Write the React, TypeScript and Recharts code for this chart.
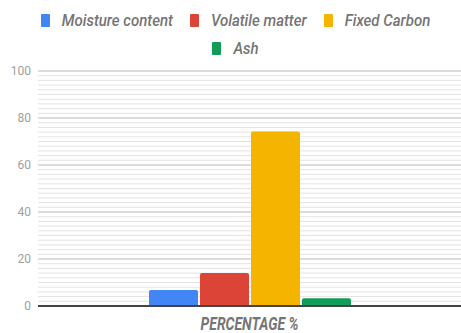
import { Bar, BarChart, CartesianGrid, XAxis, YAxis } from 'recharts'

const categories = ['PERCENTAGE %']
const seriesKeys = ['moisture', 'volatile', 'fixedCarbon', 'ash']
const seriesNames = ['Moisture content', 'Volatile matter', 'Fixed Carbon', 'Ash']
const seriesValues = [6.8, 14, 74.3, 3.3]
const seriesColors = ['#4285f4', '#db4437', '#f4b400', '#0f9d58']
const yTicks = [0, 20, 40, 60, 80, 100]
const yDomain = [0, 100]

const chartData = categories.map((name) => {
  const row: Record<string, string | number> = { name }
  seriesKeys.forEach((key, i) => {
    row[key] = seriesValues[i]
  })
  return row
})

// light grid lines every 2 units
const minorTicks = Array.from({ length: 51 }, (_, i) => i * 2)

const minorCoords = ({ yAxis, offset }: any) =>
  minorTicks.map((v) => {
    if (yAxis && typeof yAxis.scale === 'function') return yAxis.scale(v)
    return offset.top + offset.height * (1 - (v - yDomain[0]) / (yDomain[1] - yDomain[0]))
  })

const textFont = 'Roboto, "Noto Sans", sans-serif'

const CategoryTick = (props: any) => {
  const { x, y, payload } = props
  return (
    <g transform={`translate(${x},${y + 24}) scale(1,1.3)`}>
      <text
        textAnchor="middle"
        fill="#757575"
        fontFamily={textFont}
        fontSize={14}
        fontStyle="italic"
        fontWeight={700}
      >
        {payload.value}
      </text>
    </g>
  )
}

const LegendItem = ({ index }: { index: number }) => (
  <span style={{ display: 'inline-flex', alignItems: 'center', margin: '0 8.5px' }}>
    <span
      style={{
        display: 'inline-block',
        width: 9,
        height: 13,
        background: seriesColors[index],
        marginRight: 12,
        borderRadius: 1,
      }}
    />
    <span
      style={{
        display: 'inline-block',
        transform: 'scaleY(1.15)',
        fontFamily: textFont,
        fontSize: 15,
        fontStyle: 'italic',
        fontWeight: 500,
        color: '#757575',
        lineHeight: '16px',
      }}
    >
      {seriesNames[index]}
    </span>
  </span>
)

const legendRows = [[0, 1, 2], [3]]

const App = () => {
  return (
    <div
      style={{
        position: 'absolute',
        left: 0,
        top: 0,
        width: 461,
        height: 333,
        background: '#fff',
        overflow: 'hidden',
      }}
    >
      {legendRows.map((row, r) => (
        <div
          key={r}
          style={{
            position: 'absolute',
            left: 10,
            top: r === 0 ? 10 : 38,
            width: 451,
            height: 20,
            display: 'flex',
            justifyContent: 'center',
            alignItems: 'center',
          }}
        >
          {row.map((i) => (
            <LegendItem key={i} index={i} />
          ))}
        </div>
      ))}
      <BarChart
        width={461}
        height={333}
        data={chartData}
        margin={{ top: 71, right: 0, bottom: 0, left: 0 }}
        barSize={49}
        barGap={2}
      >
        <CartesianGrid
          vertical={false}
          stroke="#e4e4e4"
          horizontalCoordinatesGenerator={minorCoords}
        />
        <CartesianGrid vertical={false} stroke="#c8c8c8" />
        <XAxis
          dataKey="name"
          height={27}
          tickLine={false}
          tickSize={0}
          tickMargin={0}
          axisLine={{ stroke: '#444', strokeWidth: 2 }}
          tick={<CategoryTick />}
        />
        <YAxis
          width={38}
          domain={yDomain}
          ticks={yTicks}
          interval={0}
          axisLine={false}
          tickLine={false}
          tickSize={0}
          tickMargin={7}
          tick={{ fill: '#9e9e9e', fontSize: 12, fontFamily: textFont }}
        />
        {seriesKeys.map((key, i) => (
          <Bar
            key={key}
            dataKey={key}
            name={seriesNames[i]}
            fill={seriesColors[i]}
            radius={[2, 2, 0, 0]}
            isAnimationActive={false}
          />
        ))}
      </BarChart>
    </div>
  )
}

export default App
